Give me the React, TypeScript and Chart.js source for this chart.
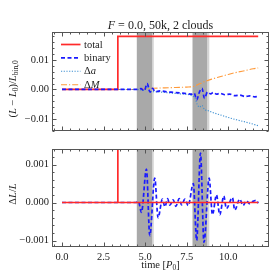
import React, { useEffect, useRef } from "react";
import { Chart, registerables } from "chart.js";
Chart.register(...registerables);

const FONT = "'Liberation Serif', 'DejaVu Serif', serif";

// ---------- data ----------
const totalTopT = [0, 3.36, 3.36, 11.8];
const totalTopV = [0, 0, 0.018, 0.018];

const binaryTopT = [0, 4.5, 4.75, 4.95, 5.12, 5.3, 5.45, 5.6, 5.9, 6.3, 6.7, 7.1, 7.5, 7.8, 7.95, 8.1, 8.27, 8.42, 8.57, 8.75, 8.95, 9.1, 9.3, 9.5, 9.8, 10.1, 10.4, 10.7, 11.0, 11.3, 11.6, 11.8];
const binaryTopV = [0, 0, 0.0003, -0.0005, 0.002, -0.0009, 0.0004, -0.0008, -0.0005, -0.0008, -0.001, -0.0012, -0.0014, -0.0016, -0.0012, -0.0035, -0.0008, 0.0004, -0.003, -0.0009, -0.0015, -0.001, -0.0016, -0.0013, -0.0018, -0.0016, -0.0021, -0.0019, -0.0024, -0.0022, -0.0025, -0.0024];

const deltaATopT = [0, 4.5, 4.95, 5.12, 5.3, 5.6, 6.3, 7.1, 7.8, 8.0, 8.13, 8.27, 8.42, 8.57, 8.75, 9.0, 9.5, 10.0, 10.5, 11.0, 11.5, 11.8];
const deltaATopV = [0, 0, -0.0003, 0.0012, -0.0008, -0.0008, -0.0011, -0.0015, -0.0021, -0.003, -0.005, -0.006, -0.0054, -0.0068, -0.0071, -0.0077, -0.0086, -0.0095, -0.0103, -0.011, -0.0118, -0.0123];

const deltaMTopT = [0, 4.7, 5.0, 5.5, 6.5, 7.5, 7.8, 8.0, 8.5, 9.0, 9.5, 10.0, 10.5, 11.0, 11.5, 11.8];
const deltaMTopV = [0, 0, 0.0002, 0.0004, 0.0006, 0.0008, 0.0009, 0.0012, 0.0025, 0.0035, 0.0043, 0.0051, 0.0058, 0.0064, 0.007, 0.0073];

const totalBotT = [0, 3.36, 3.36, 3.36, 11.8];
const totalBotV = [0, 0, 0.01, 0, 0];

const binaryBotT = [0, 4.45, 4.6, 4.78, 5.08, 5.28, 5.58, 5.78, 6.04, 6.19, 6.35, 6.49, 6.69, 6.85, 7.05, 7.19, 7.39, 7.59, 7.9, 8.1, 8.33, 8.54, 8.85, 9.05, 9.29, 9.49, 9.73, 9.89, 10.25, 10.39, 10.69, 10.89, 11.09, 11.29, 11.49, 11.7, 11.8];
const binaryBotV = [0, 0, 0.00003, -0.00026, 0.00088, -0.00087, 0.00064, -0.0004, 0.00009, -0.00011, 0.0001, -0.00007, 0.00007, -0.0001, 0.0001, -0.00006, 0.00009, -0.00008, 0.0005, -0.001, 0.0013, -0.00105, 0.00064, -0.00032, 0.0002, -0.00032, 0.00017, -0.00016, 0.00013, -0.0002, 0.00009, -0.00008, 0.00005, -0.00003, 0.00003, 0.00006, -0.00002];

// bands: start, end of dark part, end of light part
const bandStarts = [4.5, 7.85];
const bandDarkEnds = [5.42, 8.73];
const bandLightEnds = [5.52, 8.86];

const xRange = [-0.6, 12.45];
const topYRange = [-0.014, 0.0195];
const botYRange = [-0.00117, 0.0014];

const xTicks = [0, 2.5, 5, 7.5, 10];
const xTickLabels = ["0.0", "2.5", "5.0", "7.5", "10.0"];
const topYTicks = [-0.01, 0, 0.01];
const topYLabels = ["\u22120.01", "0.00", "0.01"];
const botYTicks = [-0.001, 0, 0.001];
const botYLabels = ["\u22120.001", "0.000", "0.001"];
const xMinorStep = 0.5;
const topYMinorStep = 0.002;
const botYMinorStep = 0.0002;

const RED = "#ff2a2a";
const BLUE = "#1a1aff";
const LBLUE = "#3d8fd1";
const ORANGE = "#ff9a3a";

// ---------- helpers ----------
type Seg = { t: string; it?: boolean; sub?: boolean };

function fontFor(s: Seg, size: number) {
  const sz = s.sub ? size * 0.7 : size;
  return `${s.it ? "italic " : ""}${sz}px ${FONT}`;
}
function richWidth(ctx: CanvasRenderingContext2D, segs: Seg[], size: number) {
  let w = 0;
  for (const s of segs) {
    ctx.font = fontFor(s, size);
    w += ctx.measureText(s.t).width;
  }
  return w;
}
function drawRich(ctx: CanvasRenderingContext2D, segs: Seg[], x: number, y: number, size: number, rot: number, align: "center" | "left" = "center") {
  ctx.save();
  ctx.translate(x, y);
  if (rot) ctx.rotate(rot);
  const w = richWidth(ctx, segs, size);
  let cx = align === "center" ? -w / 2 : 0;
  ctx.fillStyle = "#222";
  ctx.textBaseline = "alphabetic";
  ctx.textAlign = "left";
  for (const s of segs) {
    ctx.font = fontFor(s, size);
    const dy = size * 0.35 + (s.sub ? size * 0.22 : 0);
    ctx.fillText(s.t, cx, dy);
    cx += ctx.measureText(s.t).width;
  }
  ctx.restore();
}

function ticksBetween(min: number, max: number, step: number) {
  const out: number[] = [];
  const start = Math.ceil(min / step - 1e-9);
  for (let k = start; k * step <= max + 1e-12; k++) out.push(k * step);
  return out;
}

function makePanelPlugin(yMinorStep: number, yMajor: number[], extra: (chart: any) => void) {
  return {
    id: "panel",
    beforeDatasetsDraw(chart: any) {
      const { ctx, chartArea: a, scales } = chart;
      ctx.save();
      ctx.beginPath();
      ctx.rect(a.left, a.top, a.right - a.left, a.bottom - a.top);
      ctx.clip();
      for (let i = 0; i < bandStarts.length; i++) {
        const x0 = scales.x.getPixelForValue(bandStarts[i]);
        const x1 = scales.x.getPixelForValue(bandDarkEnds[i]);
        const x2 = scales.x.getPixelForValue(bandLightEnds[i]);
        ctx.fillStyle = "#d4d4d4";
        ctx.fillRect(x1, a.top, x2 - x1, a.bottom - a.top);
        ctx.fillStyle = "#a9a9a9";
        ctx.fillRect(x0, a.top, x1 - x0, a.bottom - a.top);
      }
      ctx.restore();
    },
    afterDraw(chart: any) {
      const { ctx, chartArea: a, scales } = chart;
      ctx.save();
      ctx.strokeStyle = "#555";
      ctx.lineWidth = 1;
      const L = Math.round(a.left) + 0.5, R = Math.round(a.right) - 0.5;
      const T = Math.round(a.top) + 0.5, B = Math.round(a.bottom) - 0.5;
      ctx.strokeRect(L, T, R - L, B - T);
      ctx.beginPath();
      const xs = scales.x;
      for (const v of ticksBetween(xRange[0], xRange[1], xMinorStep)) {
        const px = Math.round(xs.getPixelForValue(v)) + 0.5;
        const major = xTicks.some((t) => Math.abs(t - v) < 1e-9);
        const len = major ? 4 : 2;
        ctx.moveTo(px, B); ctx.lineTo(px, B - len);
        ctx.moveTo(px, T); ctx.lineTo(px, T + len);
      }
      const ys = scales.y;
      for (const v of ticksBetween(ys.min, ys.max, yMinorStep)) {
        const py = Math.round(ys.getPixelForValue(v)) + 0.5;
        const major = yMajor.some((t) => Math.abs(t - v) < 1e-12);
        const len = major ? 4 : 2;
        ctx.moveTo(L, py); ctx.lineTo(L + len, py);
        ctx.moveTo(R, py); ctx.lineTo(R - len, py);
      }
      ctx.stroke();
      ctx.restore();
      extra(chart);
    },
  };
}

function pts(t: number[], v: number[]) {
  return t.map((x, i) => ({ x, y: v[i] }));
}

function yScale(range: number[], ticks: number[], labels: string[]) {
  return {
    type: "linear",
    min: range[0],
    max: range[1],
    afterFit(s: any) { s.width = 52; },
    afterBuildTicks(s: any) { s.ticks = ticks.map((v) => ({ value: v })); },
    ticks: {
      callback: (v: number) => {
        const i = ticks.findIndex((t) => Math.abs(t - v) < 1e-12);
        return i >= 0 ? labels[i] : "";
      },
      font: { family: FONT, size: 10.5 },
      color: "#222",
      padding: 3,
    },
    grid: { display: false, drawTicks: false },
    border: { display: false },
  };
}

export default function App() {
  const topRef = useRef<HTMLCanvasElement>(null);
  const botRef = useRef<HTMLCanvasElement>(null);

  useEffect(() => {
    const legendItems: { segs: Seg[]; color: string; dash: number[]; w: number }[] = [
      { segs: [{ t: "total" }], color: RED, dash: [], w: 1.7 },
      { segs: [{ t: "binary" }], color: BLUE, dash: [4, 2.5], w: 1.7 },
      { segs: [{ t: "\u0394" }, { t: "a", it: true }], color: LBLUE, dash: [1.2, 1.5], w: 1.1 },
      { segs: [{ t: "\u0394" }, { t: "M", it: true }], color: ORANGE, dash: [6, 2, 1.2, 2], w: 1.1 },
    ];

    const topExtra = (chart: any) => {
      const ctx = chart.ctx as CanvasRenderingContext2D;
      drawRich(ctx, [{ t: "F", it: true }, { t: " = 0.0, 50k, 2 clouds" }], 160.5, 25, 12, 0);
      drawRich(ctx, [
        { t: "(" }, { t: "L", it: true }, { t: " \u2212 " }, { t: "L", it: true }, { t: "0", sub: true },
        { t: ")/" }, { t: "L", it: true }, { t: "bin,0", sub: true },
      ], 12.5, 89, 10.5, -Math.PI / 2);
      legendItems.forEach((it, i) => {
        const y = 44 + i * 13.4;
        ctx.save();
        ctx.strokeStyle = it.color;
        ctx.lineWidth = it.w;
        ctx.setLineDash(it.dash);
        ctx.beginPath();
        ctx.moveTo(61, y + 0.5);
        ctx.lineTo(80.5, y + 0.5);
        ctx.stroke();
        ctx.restore();
        drawRich(ctx, it.segs, 84, y, 10.5, 0, "left");
      });
    };

    const botExtra = (chart: any) => {
      const ctx = chart.ctx as CanvasRenderingContext2D;
      drawRich(ctx, [{ t: "\u0394" }, { t: "L", it: true }, { t: "/" }, { t: "L", it: true }], 12.5, 54, 10.5, -Math.PI / 2);
      drawRich(ctx, [{ t: "time [" }, { t: "P", it: true }, { t: "0", sub: true }, { t: "]" }], 160.5, 124, 10.5, 0);
    };

    const common = {
      responsive: false,
      animation: false,
      events: [],
      plugins: { legend: { display: false }, tooltip: { enabled: false }, title: { display: false } },
    };

    const topChart = new Chart(topRef.current!, {
      type: "line",
      data: {
        datasets: [
          { data: pts(binaryTopT, binaryTopV), borderColor: BLUE, borderWidth: 1.7, borderDash: [4, 2.5], pointRadius: 0, cubicInterpolationMode: "monotone", fill: false },
          { data: pts(totalTopT, totalTopV), borderColor: RED, borderWidth: 1.7, pointRadius: 0, tension: 0, fill: false },
          { data: pts(deltaATopT, deltaATopV), borderColor: LBLUE, borderWidth: 1.1, borderDash: [1.2, 1.5], pointRadius: 0, cubicInterpolationMode: "monotone", fill: false },
          { data: pts(deltaMTopT, deltaMTopV), borderColor: ORANGE, borderWidth: 1.1, borderDash: [6, 2, 1.2, 2], pointRadius: 0, cubicInterpolationMode: "monotone", fill: false },
        ],
      },
      options: {
        ...common,
        layout: { padding: { left: 0, right: 8, top: 32, bottom: 3 } },
        scales: {
          x: { type: "linear", min: xRange[0], max: xRange[1], display: false },
          y: yScale(topYRange, topYTicks, topYLabels),
        },
      } as any,
      plugins: [makePanelPlugin(topYMinorStep, topYTicks, topExtra)],
    } as any);

    const botChart = new Chart(botRef.current!, {
      type: "line",
      data: {
        datasets: [
          { data: pts(totalBotT, totalBotV), borderColor: RED, borderWidth: 1.7, pointRadius: 0, tension: 0, fill: false },
          { data: pts(binaryBotT, binaryBotV), borderColor: BLUE, borderWidth: 1.7, borderDash: [4, 2.5], pointRadius: 0, cubicInterpolationMode: "monotone", fill: false },
        ],
      },
      options: {
        ...common,
        layout: { padding: { left: 0, right: 8, top: 2, bottom: 0 } },
        scales: {
          x: {
            type: "linear",
            min: xRange[0],
            max: xRange[1],
            afterFit(s: any) { s.height = 30; },
            afterBuildTicks(s: any) { s.ticks = xTicks.map((v) => ({ value: v })); },
            ticks: {
              callback: (v: number) => {
                const i = xTicks.findIndex((t) => Math.abs(t - v) < 1e-9);
                return i >= 0 ? xTickLabels[i] : "";
              },
              font: { family: FONT, size: 10.5 },
              color: "#222",
              padding: 4,
              maxRotation: 0,
              autoSkip: false,
            },
            grid: { display: false, drawTicks: false },
            border: { display: false },
          },
          y: yScale(botYRange, botYTicks, botYLabels),
        },
      } as any,
      plugins: [makePanelPlugin(botYMinorStep, botYTicks, botExtra)],
    } as any);

    return () => {
      topChart.destroy();
      botChart.destroy();
    };
  }, []);

  return (
    <div style={{ position: "absolute", left: 0, top: 0, width: 277, height: 277, background: "#fff" }}>
      <canvas ref={topRef} width={277} height={140} style={{ position: "absolute", left: 0, top: 0, width: 277, height: 140 }} />
      <canvas ref={botRef} width={277} height={137} style={{ position: "absolute", left: 0, top: 140, width: 277, height: 137 }} />
    </div>
  );
}
